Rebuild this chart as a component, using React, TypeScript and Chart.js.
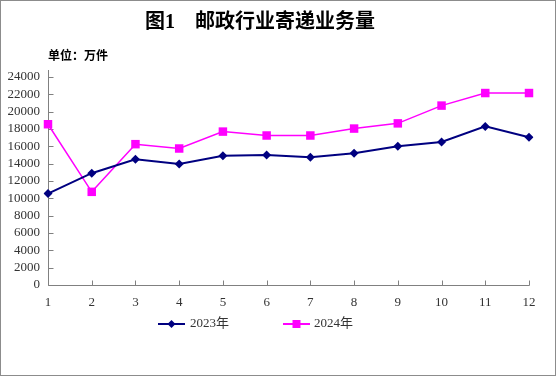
import React, { useEffect, useRef } from "react";
import { Chart, registerables } from "chart.js";

Chart.register(...registerables);

const months = ["1", "2", "3", "4", "5", "6", "7", "8", "9", "10", "11", "12"];
const series2023 = [10550, 12900, 14500, 13950, 14900, 15000, 14750, 15200, 16000, 16500, 18300, 17050];
const series2024 = [18550, 10750, 16250, 15750, 17700, 17250, 17250, 18050, 18650, 20700, 22150, 22150];
const yTicks = [0, 2000, 4000, 6000, 8000, 10000, 12000, 14000, 16000, 18000, 20000, 22000, 24000];
const titleText = "图1\u3000邮政行业寄递业务量";
const unitText = "单位：万件";
const legendLabels = ["2023年", "2024年"];

const NAVY = "#000080";
const MAGENTA = "#FF00FF";
const AXIS = "#808080";
const TEXT = "#333333";
const NUMFONT = '"Liberation Serif", "Noto Sans CJK SC", serif';

const decorPlugin = {
  id: "decor",
  beforeDatasetsDraw(chart: any) {
    const { ctx, chartArea, scales } = chart;
    const xs = scales.x;
    const ys = scales.y;
    ctx.save();
    ctx.strokeStyle = AXIS;
    ctx.lineWidth = 1;
    ctx.beginPath();
    const lx = Math.round(chartArea.left) + 0.5;
    const by = Math.round(chartArea.bottom) + 0.5;
    ctx.moveTo(lx, chartArea.top - 7);
    ctx.lineTo(lx, by);
    ctx.lineTo(Math.round(chartArea.right) + 0.5, by);
    yTicks.forEach((v) => {
      const y = Math.round(ys.getPixelForValue(v)) + 0.5;
      ctx.moveTo(lx, y);
      ctx.lineTo(lx + 5, y);
    });
    months.forEach((_, i) => {
      const x = Math.round(xs.getPixelForValue(i)) + 0.5;
      ctx.moveTo(x, by);
      ctx.lineTo(x, by - 5);
    });
    ctx.stroke();
    ctx.restore();
  },
  afterDraw(chart: any) {
    const { ctx, width, height } = chart;
    ctx.save();
    ctx.strokeStyle = "#8c8c8c";
    ctx.lineWidth = 1;
    ctx.strokeRect(0.5, 0.5, width - 1, height - 1);
    ctx.fillStyle = "#000000";
    ctx.textAlign = "center";
    ctx.textBaseline = "middle";
    ctx.font = 'bold 20px "Liberation Serif", "Noto Sans CJK SC", serif';
    ctx.fillText(titleText, 260, 23);
    ctx.textAlign = "left";
    ctx.font = 'bold 12px "Noto Sans CJK SC", sans-serif';
    ctx.fillText(unitText, 48, 55);
    const items = [
      { x0: 158, x1: 185, color: NAVY, style: "diamond", tx: 190, label: legendLabels[0] },
      { x0: 283, x1: 310, color: MAGENTA, style: "square", tx: 314, label: legendLabels[1] },
    ];
    const ly = 324;
    items.forEach((it) => {
      ctx.strokeStyle = it.color;
      ctx.fillStyle = it.color;
      ctx.lineWidth = 2;
      ctx.beginPath();
      ctx.moveTo(it.x0, ly);
      ctx.lineTo(it.x1, ly);
      ctx.stroke();
      const cx = (it.x0 + it.x1) / 2;
      ctx.beginPath();
      if (it.style === "diamond") {
        ctx.moveTo(cx, ly - 4);
        ctx.lineTo(cx + 4, ly);
        ctx.lineTo(cx, ly + 4);
        ctx.lineTo(cx - 4, ly);
        ctx.closePath();
      } else {
        ctx.rect(cx - 4, ly - 4, 8, 8);
      }
      ctx.fill();
      ctx.fillStyle = TEXT;
      ctx.font = '13px ' + NUMFONT;
      ctx.textBaseline = "middle";
      ctx.fillText(it.label, it.tx, ly);
    });
    ctx.restore();
  },
};

export default function App() {
  const ref = useRef<HTMLCanvasElement>(null);
  useEffect(() => {
    if (!ref.current) return;
    const chart = new Chart(ref.current, {
      type: "line",
      data: {
        labels: months,
        datasets: [
          {
            label: legendLabels[0],
            data: series2023,
            borderColor: NAVY,
            backgroundColor: NAVY,
            borderWidth: 2,
            pointStyle: "rectRot",
            pointRadius: 4.5,
            pointBorderWidth: 0,
            tension: 0,
          },
          {
            label: legendLabels[1],
            data: series2024,
            borderColor: MAGENTA,
            backgroundColor: MAGENTA,
            borderWidth: 1.5,
            pointStyle: "rect",
            pointRadius: 6,
            pointBorderWidth: 0,
            tension: 0,
          },
        ],
      },
      options: {
        animation: false,
        responsive: false,
        devicePixelRatio: 1,
        layout: { padding: { left: 0, right: 27, top: 77, bottom: 0 } },
        plugins: {
          legend: { display: false },
          title: { display: false },
          tooltip: { enabled: false },
        },
        scales: {
          x: {
            type: "category",
            offset: false,
            grid: { display: false, drawTicks: false },
            border: { display: false },
            ticks: {
              color: TEXT,
              font: { family: NUMFONT, size: 13 },
              padding: 10,
              maxRotation: 0,
              autoSkip: false,
            },
            afterFit(scale: any) {
              scale.height = 376 - 285;
            },
          },
          y: {
            min: 0,
            max: 24000,
            grid: { display: false, drawTicks: false },
            border: { display: false },
            afterBuildTicks(scale: any) {
              scale.ticks = yTicks.map((v) => ({ value: v }));
            },
            ticks: {
              color: TEXT,
              font: { family: NUMFONT, size: 13 },
              padding: 8,
              autoSkip: false,
              callback: (v: any) => String(v),
            },
            afterFit(scale: any) {
              scale.width = 48;
            },
          },
        },
      },
      plugins: [decorPlugin],
    });
    return () => chart.destroy();
  }, []);
  return (
    <canvas
      ref={ref}
      width={556}
      height={376}
      style={{ position: "absolute", left: 0, top: 0, width: 556, height: 376 }}
    />
  );
}
